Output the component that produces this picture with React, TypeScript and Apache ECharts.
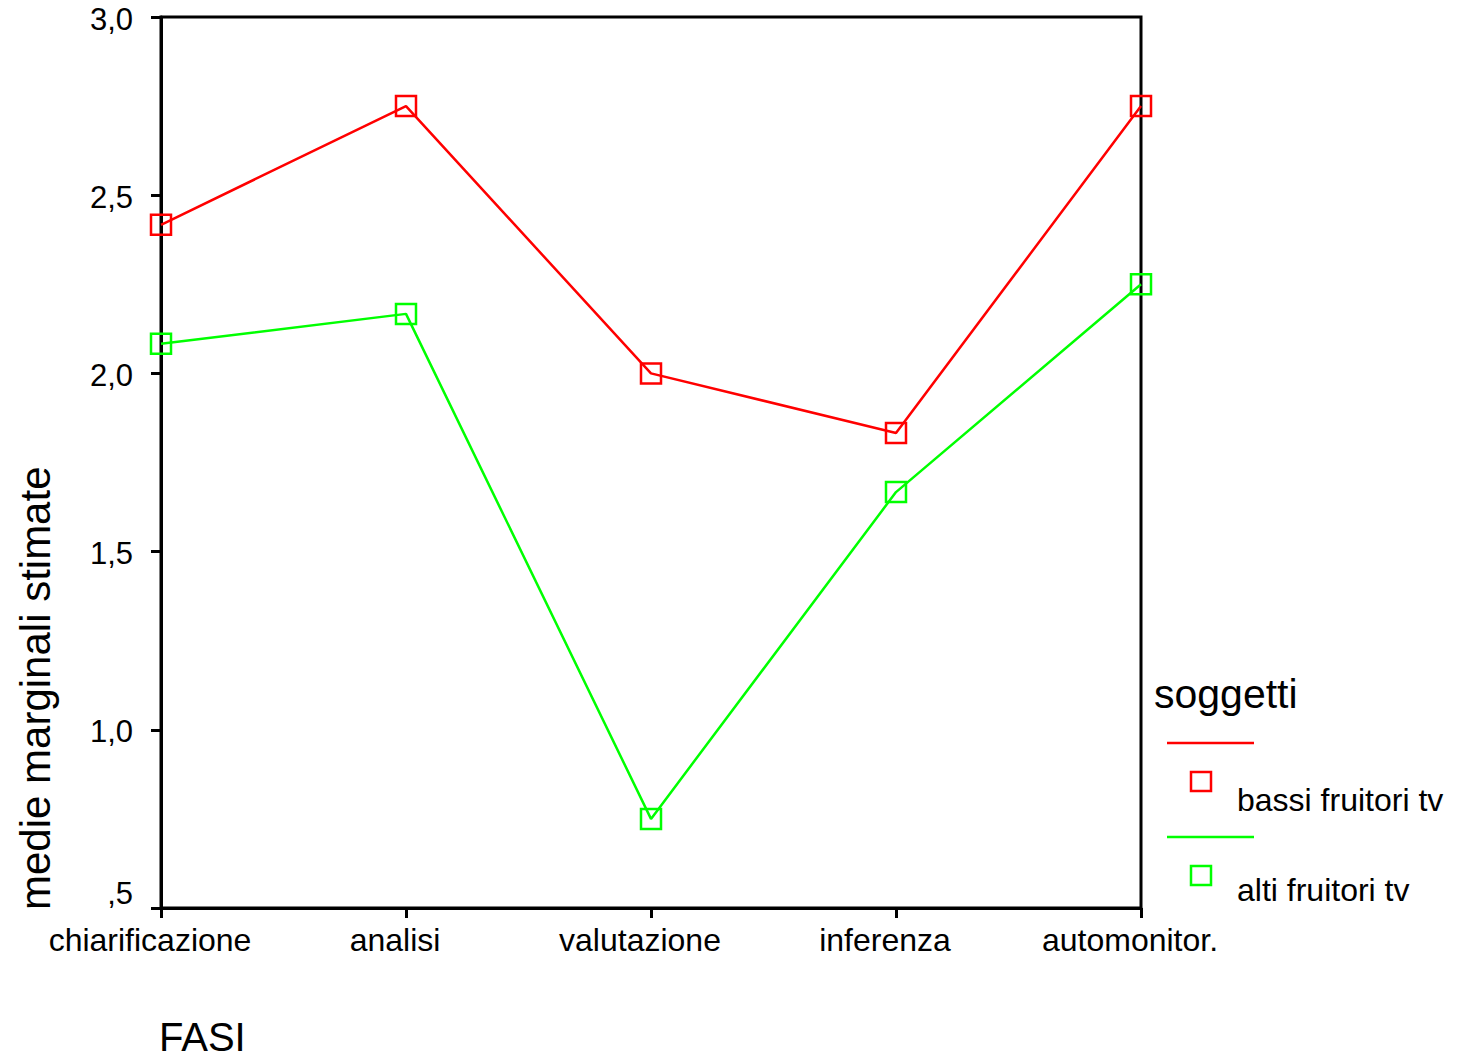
import React, { useEffect, useRef } from "react";
import * as echarts from "echarts";

const categories = ["chiarificazione", "analisi", "valutazione", "inferenza", "automonitor."];
const bassiValues = [2.417, 2.75, 2.0, 1.833, 2.75];
const altiValues = [2.083, 2.167, 0.75, 1.667, 2.25];
const seriesNames = ["bassi fruitori tv", "alti fruitori tv"];
const seriesColors = ["#ff0000", "#00ff00"];
const yTicks = { min: 0.5, max: 3.0, interval: 0.5 };

const FONT = "'Liberation Sans', Arial, sans-serif";

export default function App() {
  const ref = useRef<HTMLDivElement>(null);
  useEffect(() => {
    if (!ref.current) return;
    const chart = echarts.init(ref.current, undefined, { renderer: "svg" });
    const mkSeries = (name: string, data: number[], color: string) => ({
      name,
      type: "line",
      data,
      symbol: "rect",
      symbolSize: 20,
      lineStyle: { color, width: 2.5 },
      itemStyle: { color: "rgba(0,0,0,0)", borderColor: color, borderWidth: 2.5 },
      emphasis: { disabled: true },
      z: 3,
    });
    chart.setOption({
      animation: false,
      backgroundColor: "#ffffff",
      textStyle: { fontFamily: FONT },
      grid: {
        left: 161,
        top: 17,
        right: 318,
        bottom: 153,
        show: true,
        borderColor: "#000",
        borderWidth: 3,
        backgroundColor: "transparent",
      },
      xAxis: {
        type: "category",
        data: categories,
        boundaryGap: false,
        axisLine: { lineStyle: { color: "#000", width: 3 } },
        axisTick: { show: true, length: 10, inside: false, lineStyle: { color: "#000", width: 3 }, alignWithLabel: true },
        axisLabel: {
          color: "#000",
          fontSize: 32,
          fontFamily: FONT,
          margin: 16,
          padding: [0, 22, 0, 0],
          interval: 0,
        },
        splitLine: { show: false },
      },
      yAxis: {
        type: "value",
        min: yTicks.min,
        max: yTicks.max,
        interval: yTicks.interval,
        axisLine: { show: true, lineStyle: { color: "#000", width: 3 } },
        axisTick: { show: true, length: 10, lineStyle: { color: "#000", width: 3 } },
        axisLabel: {
          color: "#000",
          fontSize: 31,
          fontFamily: FONT,
          margin: 28,
          padding: [4, 0, 0, 0],
          formatter: (v: number) => {
            const s = v.toFixed(1).replace(".", ",");
            return s.startsWith("0") ? "{low|" + s.slice(1) + "}" : s;
          },
          rich: {
            low: { fontSize: 31, fontFamily: FONT, color: "#000", padding: [0, 0, 34, 0] },
          },
        },
        splitLine: { show: false },
      },
      series: [
        mkSeries(seriesNames[0], bassiValues, seriesColors[0]),
        mkSeries(seriesNames[1], altiValues, seriesColors[1]),
      ],
      graphic: [
        {
          type: "text",
          x: 35,
          y: 910,
          rotation: Math.PI / 2,
          style: {
            text: "medie marginali stimate",
            fontSize: 42,
            fontFamily: FONT,
            fill: "#000",
            align: "left",
            verticalAlign: "middle",
          },
        },
        {
          type: "text",
          x: 159,
          y: 1037,
          style: { text: "FASI", fontSize: 40, fontFamily: FONT, fill: "#000", align: "left", verticalAlign: "middle" },
        },
        {
          type: "text",
          x: 1154,
          y: 694,
          style: { text: "soggetti", fontSize: 41, fontFamily: FONT, fill: "#000", align: "left", verticalAlign: "middle" },
        },
        {
          type: "line",
          shape: { x1: 1167, y1: 743, x2: 1254, y2: 743 },
          style: { stroke: seriesColors[0], lineWidth: 2.5 },
        },
        {
          type: "rect",
          shape: { x: 1191, y: 772, width: 20, height: 19 },
          style: { stroke: seriesColors[0], fill: "none", lineWidth: 2.5 },
        },
        {
          type: "text",
          x: 1237,
          y: 800,
          style: { text: seriesNames[0], fontSize: 32, fontFamily: FONT, fill: "#000", align: "left", verticalAlign: "middle" },
        },
        {
          type: "line",
          shape: { x1: 1167, y1: 837, x2: 1254, y2: 837 },
          style: { stroke: seriesColors[1], lineWidth: 2.5 },
        },
        {
          type: "rect",
          shape: { x: 1191, y: 866, width: 20, height: 19 },
          style: { stroke: seriesColors[1], fill: "none", lineWidth: 2.5 },
        },
        {
          type: "text",
          x: 1237,
          y: 890,
          style: { text: seriesNames[1], fontSize: 32, fontFamily: FONT, fill: "#000", align: "left", verticalAlign: "middle" },
        },
      ],
    });
    return () => chart.dispose();
  }, []);
  return (
    <div
      ref={ref}
      style={{ position: "fixed", left: 0, top: 0, width: 1459, height: 1061, background: "#fff" }}
    />
  );
}
